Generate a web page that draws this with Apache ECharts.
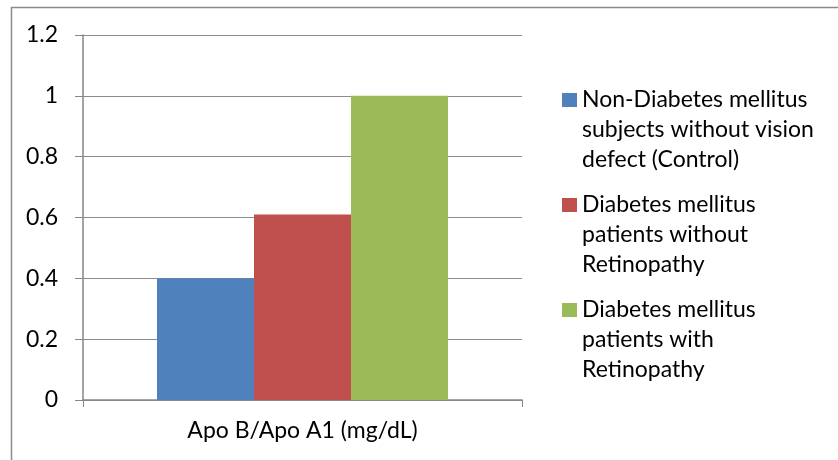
<!DOCTYPE html>
<html>
<head>
<meta charset="utf-8">
<script src="https://cdn.jsdelivr.net/npm/echarts@6/dist/echarts.min.js"></script>
<style>
    html, body { margin: 0; padding: 0; background: #fff; }
    #chart { width: 838px; height: 460px; }
</style>
</head>
<body>
<div id="chart"></div>
<script>
    // data
    let categories = ['Apo B/Apo A1 (mg/dL)']
    let seriesNames = [
        'Non-Diabetes mellitus\nsubjects without vision\ndefect (Control)',
        'Diabetes mellitus\npatients without\nRetinopathy',
        'Diabetes mellitus\npatients with\nRetinopathy'
    ]
    let seriesValues = [[0.40], [0.61], [1.00]]
    let colors = ['#4F81BD', '#C0504D', '#9BBB59']
    let yTicks = [0, 0.2, 0.4, 0.6, 0.8, 1, 1.2]

    let font = 'Lato'
    let fs = 23
    let myChart = echarts.init(document.getElementById('chart'))

    // legend: square on the first line, following lines indented
    let rich = {
        t: { fontFamily: font, fontSize: fs, lineHeight: 30, color: '#000' },
        pad: { width: 20, height: 14 }
    }
    colors.forEach(function (c, i) {
        rich['sq' + i] = { width: 15, height: 14, backgroundColor: c }
        rich['gap' + i] = { width: 5 }
    })

    let series = []
    for (let i = 0; i < seriesNames.length; i++) {
        series.push({
            name: seriesNames[i],
            type: 'bar',
            data: seriesValues[i],
            barWidth: 97,
            barGap: '0%',
            itemStyle: { color: colors[i] }
        })
    }

    let option = {
        animation: false,
        textStyle: { fontFamily: font },
        graphic: [{
            type: 'rect',
            shape: { x: 11.5, y: 7.5, width: 840, height: 470 },
            style: { fill: 'none', stroke: '#8a8a8a', lineWidth: 1.5 },
            silent: true
        }],
        grid: { left: 83, right: 316, top: 35, bottom: 60, containLabel: false },
        legend: {
            orient: 'vertical',
            left: 557,
            top: 80,
            itemGap: 15,
            icon: 'rect',
            itemWidth: 0,
            itemHeight: 0,
            data: seriesNames,
            formatter: function (name) {
                let idx = seriesNames.indexOf(name)
                let lines = name.split('\n')
                return lines.map(function (l, k) {
                    if (k === 0) return '{sq' + idx + '|}{gap' + idx + '|}{t|' + l + '}'
                    return '{pad|}{t|' + l + '}'
                }).join('\n')
            },
            textStyle: { rich: rich, lineHeight: 30, padding: [0, 0, 0, -5] }
        },
        xAxis: {
            type: 'category',
            data: categories,
            axisLine: { lineStyle: { color: '#868686', width: 1.5 } },
            axisTick: { show: true, length: 7, lineStyle: { color: '#868686' } },
            axisLabel: { color: '#000', fontSize: fs, fontFamily: font, margin: 19 }
        },
        yAxis: {
            type: 'value',
            min: 0,
            max: 1.2,
            interval: 0.2,
            axisLine: { show: true, lineStyle: { color: '#868686', width: 1.5 } },
            axisTick: { show: true, length: 8, lineStyle: { color: '#868686' } },
            splitLine: { lineStyle: { color: '#8c8c8c', width: 1.2 } },
            axisLabel: {
                color: '#000',
                fontSize: fs,
                fontFamily: font,
                margin: 25,
                formatter: function (v) {
                    let t = yTicks.find(function (y) { return Math.abs(y - v) < 1e-9 })
                    return t === undefined ? '' : String(t)
                }
            }
        },
        series: series
    }

    myChart.setOption(option)
</script>
</body>
</html>
